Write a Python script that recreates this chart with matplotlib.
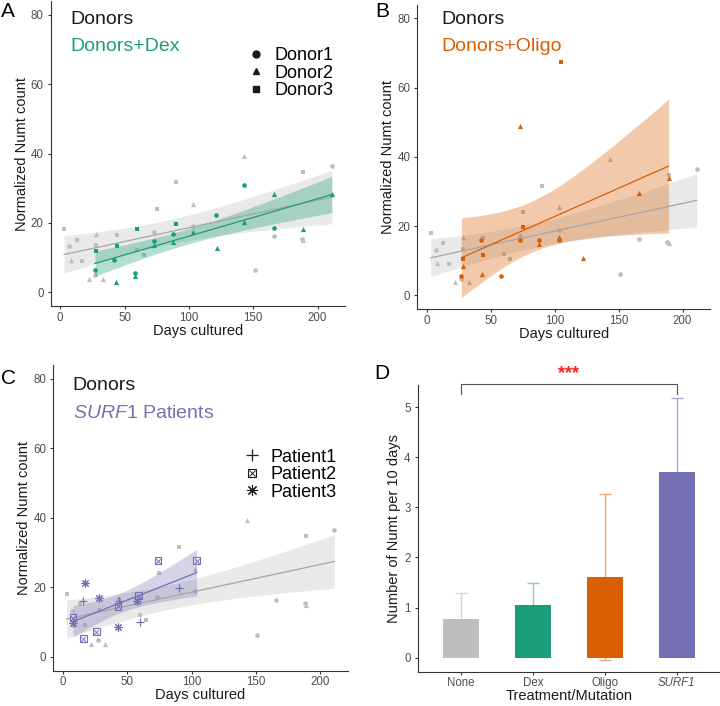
import numpy as np
import matplotlib
matplotlib.use('Agg')
import matplotlib.pyplot as plt
from matplotlib.lines import Line2D

plt.rcParams['font.family'] = ['Liberation Sans', 'DejaVu Sans']
plt.rcParams['mathtext.fontset'] = 'custom'
plt.rcParams['mathtext.rm'] = 'Liberation Sans'
plt.rcParams['mathtext.it'] = 'Liberation Sans:italic'

# donors, untreated (grey points in A, B, C)
d1_day = [7, 27, 73, 103, 151, 166, 188, 211]
d1_val = [13.2, 4.8, 17.3, 19.0, 6.3, 16.3, 15.4, 36.5]
d2_day = [8, 22, 28, 33, 103, 143, 189]
d2_val = [9.4, 3.8, 16.8, 3.8, 25.4, 39.3, 15.0]
d3_day = [3, 13, 17, 28, 44, 60, 65, 75, 90, 189]
d3_val = [18.1, 15.1, 9.0, 13.5, 16.6, 12.1, 10.6, 24.1, 31.7, 34.8]

# donors + Dex
dex1_day = [27, 42, 58, 73, 88, 121, 143, 166]
dex1_val = [6.5, 9.4, 5.6, 14.9, 16.7, 22.3, 30.8, 18.6]
dex2_day = [43, 58, 73, 88, 103, 122, 143, 166, 189, 211]
dex2_val = [2.8, 4.7, 13.5, 14.6, 17.4, 12.8, 20.1, 28.2, 18.3, 28.2]
dex3_day = [28, 44, 60, 90]
dex3_val = [12.0, 13.4, 18.1, 19.6]

# donors + Oligo
ol1_day = [27, 42, 58, 73, 88, 103]
ol1_val = [5.7, 15.9, 5.7, 15.9, 15.9, 15.9]
ol2_day = [28, 43, 73, 88, 103, 122, 166, 189]
ol2_val = [8.6, 6.3, 48.8, 14.9, 16.9, 10.7, 29.6, 33.9]
ol3_day = [28, 44, 75, 105]
ol3_val = [10.6, 11.7, 19.8, 67.3]

# SURF1 patients
p1_day = [16, 44, 60, 90]
p1_val = [16.0, 16.1, 10.0, 19.9]
p2_day = [8, 16, 26, 43, 59, 74, 104]
p2_val = [11.3, 5.2, 7.2, 14.5, 17.6, 27.7, 27.7]
p3_day = [8, 17, 28, 43, 58]
p3_val = [9.6, 21.2, 17.0, 8.5, 16.0]

# panel D
groups = ['None', 'Dex', 'Oligo', 'SURF1']
rate = [0.78, 1.06, 1.61, 3.70]
rate_sd = [0.52, 0.42, 1.65, 1.48]

grey_pt = '#BEBEBE'
green = '#1B9E77'
orange = '#D95F02'
purple = '#7570B3'


def tcrit(df):
    z = 1.959964
    return (z + (z**3 + z) / (4 * df) + (5 * z**5 + 16 * z**3 + 3 * z) / (96 * df**2)
            + (3 * z**7 + 19 * z**5 + 17 * z**3 - 15 * z) / (384 * df**3))


def lm_band(x, y, n=80):
    x = np.asarray(x, float)
    y = np.asarray(y, float)
    b, a = np.polyfit(x, y, 1)
    xs = np.linspace(x.min(), x.max(), n)
    fit = a + b * xs
    df = len(x) - 2
    s = np.sqrt(np.sum((y - (a + b * x))**2) / df)
    se = s * np.sqrt(1 / len(x) + (xs - x.mean())**2 / np.sum((x - x.mean())**2))
    t = tcrit(df)
    return xs, fit, fit - t * se, fit + t * se


def style(ax):
    for s in ['top', 'right']:
        ax.spines[s].set_visible(False)
    for s in ['left', 'bottom']:
        ax.spines[s].set_color('#333333')
        ax.spines[s].set_linewidth(0.8)
    ax.tick_params(colors='#333333', labelcolor='#4D4D4D', labelsize=8.3, length=2.5, width=0.8)
    ax.tick_params(axis='x', pad=1.5)
    ax.tick_params(axis='y', pad=2.5)


def smooth(ax, x, y, col, alpha, lcol=None):
    xs, fit, lo, hi = lm_band(x, y)
    ax.fill_between(xs, lo, hi, color=col, alpha=alpha, lw=0)
    ax.plot(xs, fit, color=lcol or col, lw=0.9)


def scatter_panel(ax):
    all_x = d1_day + d2_day + d3_day
    all_y = d1_val + d2_val + d3_val
    smooth(ax, all_x, all_y, '#C8C8C8', 0.4, '#A6A6A6')
    ax.scatter(d1_day, d1_val, marker='o', s=11, color=grey_pt, lw=0)
    ax.scatter(d2_day, d2_val, marker='^', s=14, color=grey_pt, lw=0)
    ax.scatter(d3_day, d3_val, marker='s', s=11, color=grey_pt, lw=0)
    ax.set_xlim(-7.4, 221.4)
    ax.set_ylim(-4, 84)
    ax.set_xticks([0, 50, 100, 150, 200])
    ax.set_yticks([0, 20, 40, 60, 80])
    ax.set_xlabel('Days cultured', fontsize=10.5, color='#1a1a1a', labelpad=0)
    ax.set_ylabel('Normalized Numt count', fontsize=10.5, color='#1a1a1a', labelpad=1.5)
    style(ax)


def treated(ax, sets, col):
    xs = sum([s[0] for s in sets], [])
    ys = sum([s[1] for s in sets], [])
    smooth(ax, xs, ys, col, 0.33)
    for (dx, dy), m, sz in zip(sets, ['o', '^', 's'], [11, 14, 11]):
        ax.scatter(dx, dy, marker=m, s=sz, color=col, lw=0, zorder=3)


fig = plt.figure(figsize=(7.2, 7.06), dpi=100)
axA = fig.add_axes([0.0704, 0.5666, 0.409, 0.4318])
axB = fig.add_axes([0.5796, 0.5619, 0.4065, 0.4317])
axC = fig.add_axes([0.074, 0.0501, 0.409, 0.4328])
axD = fig.add_axes([0.580, 0.0486, 0.42, 0.406])

# A
scatter_panel(axA)
treated(axA, [(dex1_day, dex1_val), (dex2_day, dex2_val), (dex3_day, dex3_val)], green)
axA.text(0.066, 0.940, 'Donors', transform=axA.transAxes, fontsize=14, color='#1a1a1a', va='center')
axA.text(0.066, 0.852, 'Donors+Dex', transform=axA.transAxes, fontsize=14, color=green, va='center')
hd = [Line2D([], [], marker=m, color='#1a1a1a', ls='none', ms=5) for m in ['o', '^', 's']]
axA.legend(hd, ['Donor1', 'Donor2', 'Donor3'], loc='upper left', bbox_to_anchor=(0.674, 0.849),
           frameon=False, fontsize=13, handlelength=0.8, handletextpad=0.6, labelspacing=0.02,
           borderpad=0, borderaxespad=0)

# B
scatter_panel(axB)
treated(axB, [(ol1_day, ol1_val), (ol2_day, ol2_val), (ol3_day, ol3_val)], orange)
axB.text(0.081, 0.952, 'Donors', transform=axB.transAxes, fontsize=14, color='#1a1a1a', va='center')
axB.text(0.081, 0.861, 'Donors+Oligo', transform=axB.transAxes, fontsize=14, color=orange, va='center')

# C
scatter_panel(axC)
pt_x = p1_day + p2_day + p3_day
pt_y = p1_val + p2_val + p3_val
smooth(axC, pt_x, pt_y, purple, 0.3)
axC.scatter(p1_day, p1_val, marker='+', s=30, color=purple, lw=0.9, zorder=3)
axC.scatter(p2_day, p2_val, marker='s', s=22, facecolor='none', edgecolor=purple, lw=0.8, zorder=3)
axC.scatter(p2_day, p2_val, marker='x', s=12, color=purple, lw=0.7, zorder=3)
axC.scatter(p3_day, p3_val, marker=(8, 2, 0), s=30, color=purple, lw=0.8, zorder=3)
axC.text(0.066, 0.932, 'Donors', transform=axC.transAxes, fontsize=14, color='#1a1a1a', va='center')
axC.text(0.066, 0.842, r'$\mathit{SURF}$1 Patients', transform=axC.transAxes, fontsize=14,
         color=purple, va='center')
hp = [Line2D([], [], marker='+', color='#1a1a1a', ls='none', ms=8, mew=0.9),
      (Line2D([], [], marker='s', mfc='none', mec='#1a1a1a', ls='none', ms=6, mew=0.8),
       Line2D([], [], marker='x', color='#1a1a1a', ls='none', ms=4, mew=0.7)),
      Line2D([], [], marker=(8, 2, 0), color='#1a1a1a', ls='none', ms=8, mew=0.8)]
axC.legend(hp, ['Patient1', 'Patient2', 'Patient3'], loc='upper left', bbox_to_anchor=(0.651, 0.726),
           frameon=False, fontsize=13, handlelength=0.8, handletextpad=0.6, labelspacing=0.02,
           borderpad=0, borderaxespad=0)

# D
pos = np.arange(1, len(groups) + 1)
bar_cols = ['#BEBEBE', green, orange, purple]
err_cols = ['#D6D6D6', '#8DCFBA', '#F2A574', '#ABA7D8']
axD.bar(pos, rate, width=0.5, color=bar_cols, zorder=2)
for i in range(len(groups)):
    axD.errorbar(pos[i], rate[i], yerr=rate_sd[i], color=err_cols[i], capsize=4.3, lw=1, capthick=1, zorder=1)
axD.set_xlim(0.4, 4.6)
axD.set_ylim(-0.28, 5.44)
axD.set_xticks(pos)
axD.set_xticklabels(groups)
axD.get_xticklabels()[3].set_style('italic')
axD.set_yticks([0, 1, 2, 3, 4, 5])
axD.set_xlabel('Treatment/Mutation', fontsize=10.5, color='#1a1a1a', labelpad=0)
axD.set_ylabel('Number of Numt per 10 days', fontsize=10.5, color='#1a1a1a', labelpad=2)
style(axD)
axD.plot([1, 1, 4, 4], [5.27, 5.46, 5.46, 5.27], color='#555555', lw=0.8, clip_on=False)
axD.text(2.5, 5.5, '***', color='#FF1A1A', fontsize=13, fontweight='bold', ha='center', va='bottom')

for lab, x, y in [('A', 0.0104, 0.9844), ('B', 0.5306, 0.9837), ('C', 0.0125, 0.4639), ('D', 0.5306, 0.4703)]:
    fig.text(x, y, lab, fontsize=15, ha='center', va='center', color='black')

fig.savefig('out.png', dpi=100)
